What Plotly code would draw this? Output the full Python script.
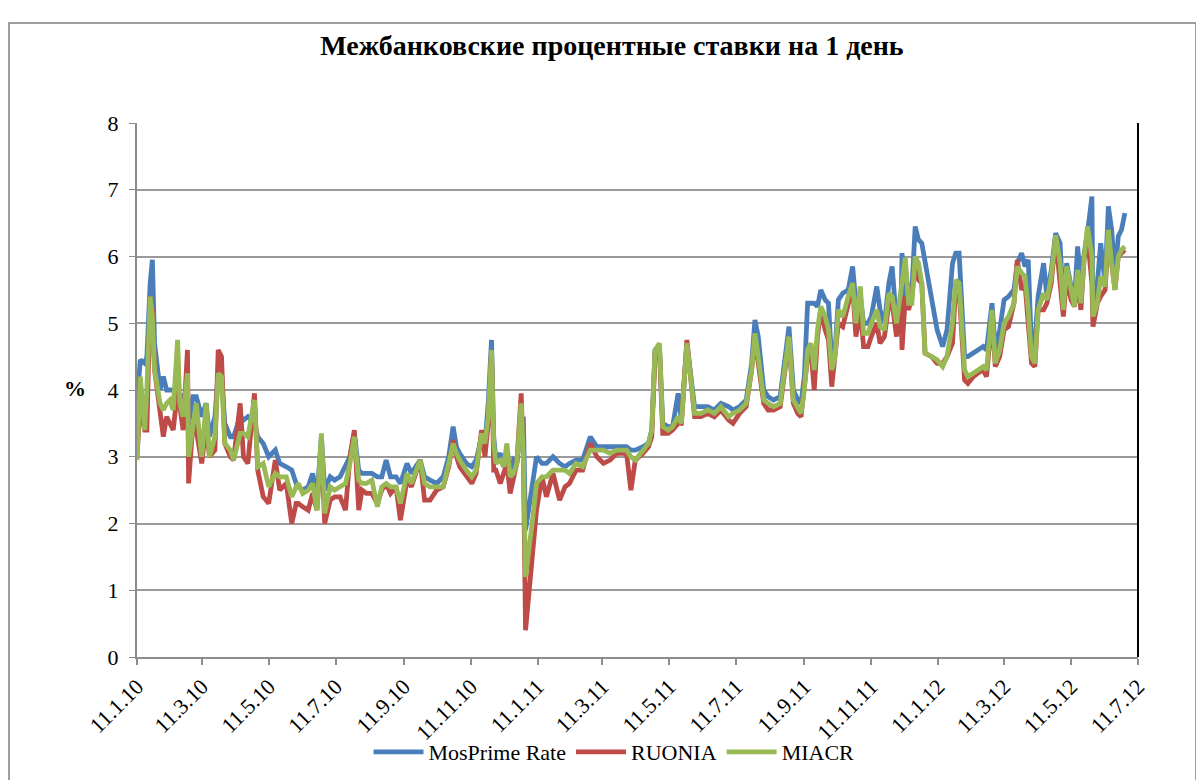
import plotly.graph_objects as go

dates = [
    "2010-01-11", "2010-01-14", "2010-01-18", "2010-01-20", "2010-01-23", "2010-01-25", "2010-01-27",
    "2010-02-01", "2010-02-04", "2010-02-07", "2010-02-10", "2010-02-13", "2010-02-17", "2010-02-19",
    "2010-02-22", "2010-02-26", "2010-02-27", "2010-03-03", "2010-03-06", "2010-03-11", "2010-03-15",
    "2010-03-18", "2010-03-23", "2010-03-26", "2010-03-29", "2010-04-01", "2010-04-06", "2010-04-09",
    "2010-04-15", "2010-04-18", "2010-04-22", "2010-04-28", "2010-05-01", "2010-05-06", "2010-05-11",
    "2010-05-17", "2010-05-21", "2010-05-27", "2010-06-01", "2010-06-05",
    "2010-06-07", "2010-06-11", "2010-06-16", "2010-06-20", "2010-06-24", "2010-06-28", "2010-07-01",
    "2010-07-06", "2010-07-10", "2010-07-15", "2010-07-20", "2010-07-24", "2010-07-28", "2010-08-01",
    "2010-08-04", "2010-08-08", "2010-08-13", "2010-08-18", "2010-08-22", "2010-08-26", "2010-08-30",
    "2010-09-04", "2010-09-08", "2010-09-14", "2010-09-18", "2010-09-26", "2010-09-30", "2010-10-05",
    "2010-10-11", "2010-10-17", "2010-10-22", "2010-10-26", "2010-10-29",
    "2010-11-01", "2010-11-07", "2010-11-12", "2010-11-16", "2010-11-21", "2010-11-24", "2010-11-27",
    "2010-11-30", "2010-12-02", "2010-12-04", "2010-12-08", "2010-12-11", "2010-12-14", "2010-12-17",
    "2010-12-20", "2010-12-23", "2010-12-27", "2010-12-29", "2010-12-31",
    "2011-01-06", "2011-01-10", "2011-01-15", "2011-01-19", "2011-01-25", "2011-01-31", "2011-02-05",
    "2011-02-09", "2011-02-15", "2011-02-21", "2011-02-28", "2011-03-06", "2011-03-12", "2011-03-18",
    "2011-03-24", "2011-04-02", "2011-04-06", "2011-04-10", "2011-04-17", "2011-04-22", "2011-04-25",
    "2011-04-28", "2011-05-02", "2011-05-05", "2011-05-10", "2011-05-14", "2011-05-19", "2011-05-22",
    "2011-05-27", "2011-05-30", "2011-06-03", "2011-06-09", "2011-06-15", "2011-06-21", "2011-06-27",
    "2011-07-04", "2011-07-08", "2011-07-14", "2011-07-20", "2011-07-25", "2011-07-28", "2011-07-31",
    "2011-08-05", "2011-08-09", "2011-08-14", "2011-08-20", "2011-08-24", "2011-08-28", "2011-09-01",
    "2011-09-05", "2011-09-08", "2011-09-11", "2011-09-14", "2011-09-17", "2011-09-20", "2011-09-23",
    "2011-09-26", "2011-09-30", "2011-10-03", "2011-10-06", "2011-10-09", "2011-10-12", "2011-10-16",
    "2011-10-21", "2011-10-25", "2011-10-28", "2011-11-01", "2011-11-04", "2011-11-08", "2011-11-11",
    "2011-11-16", "2011-11-19", "2011-11-23", "2011-11-27", "2011-11-30", "2011-12-04", "2011-12-08",
    "2011-12-09", "2011-12-12", "2011-12-15", "2011-12-18", "2011-12-21", "2011-12-24", "2011-12-27",
    "2011-12-30",
    "2012-01-05", "2012-01-10", "2012-01-15", "2012-01-19", "2012-01-24", "2012-01-27", "2012-01-30",
    "2012-02-02", "2012-02-04", "2012-02-07", "2012-02-12", "2012-02-16", "2012-02-21", "2012-02-24",
    "2012-02-29", "2012-03-03", "2012-03-07", "2012-03-11", "2012-03-15", "2012-03-20", "2012-03-23",
    "2012-03-27", "2012-03-30", "2012-04-02", "2012-04-05", "2012-04-08", "2012-04-11", "2012-04-16",
    "2012-04-19", "2012-04-23", "2012-04-27", "2012-05-01", "2012-05-04", "2012-05-07", "2012-05-11",
    "2012-05-14", "2012-05-17", "2012-05-20", "2012-05-23", "2012-05-26", "2012-05-30", "2012-05-31",
    "2012-06-04", "2012-06-07", "2012-06-11", "2012-06-14", "2012-06-17", "2012-06-20", "2012-06-23",
    "2012-06-26", "2012-06-29",
]

mosprime = [
    3.8, 4.45, 4.4, 4.5, 5.6, 5.95, 4.7,
    4.0, 4.2, 4.0, 4.0, 4.0, 4.0, 3.9,
    3.9, 4.0, 3.5, 3.9, 3.9, 3.6, 3.8,
    3.3, 3.6, 4.25, 4.2, 3.5, 3.3, 3.3,
    3.6, 3.55, 3.6, 3.5, 3.3, 3.2, 3.0,
    3.1, 2.9, 2.85, 2.8, 2.6,
    2.55, 2.5, 2.55, 2.75, 2.4, 3.3, 2.5,
    2.7, 2.65, 2.7, 2.85, 3.0, 3.35, 2.8,
    2.75, 2.75, 2.75, 2.7, 2.7, 2.95, 2.7,
    2.7, 2.6, 2.9, 2.75, 2.95, 2.7, 2.65,
    2.6, 2.7, 3.0, 3.45, 3.15,
    3.05, 2.9, 2.85, 2.95, 3.3, 3.2, 3.8,
    4.75, 3.3, 2.95, 3.05, 2.85, 3.1, 2.8,
    2.95, 2.9, 3.5, 3.6, 1.9,
    2.5, 3.0, 2.9, 2.9, 3.0, 2.9, 2.85,
    2.9, 2.95, 2.95, 3.3, 3.15, 3.15, 3.15,
    3.15, 3.15, 3.1, 3.1, 3.15, 3.2, 3.4,
    4.6, 4.65, 3.5, 3.45, 3.45, 3.95, 3.55,
    4.7, 4.3, 3.75, 3.75, 3.75, 3.7, 3.8,
    3.75, 3.7, 3.75, 3.85, 4.4, 5.05, 4.8,
    4.0, 3.9, 3.85, 3.9, 4.4, 4.95, 4.0,
    3.85, 3.8, 4.2, 5.3, 5.3, 5.3, 5.25,
    5.5, 5.35, 5.3, 4.4, 4.6, 5.35, 5.45,
    5.5, 5.85, 5.3, 5.4, 5.0, 5.0, 5.1,
    5.55, 5.2, 5.0, 5.6, 5.85, 5.0, 5.2,
    6.05, 5.3, 5.6, 5.5, 6.45, 6.25, 6.2,
    5.9,
    5.4, 4.9, 4.65, 4.9, 5.9, 6.05, 6.05,
    5.0, 4.5, 4.5, 4.55, 4.6, 4.65, 4.6,
    5.3, 4.6, 4.9, 5.35, 5.4, 5.5, 5.9,
    6.05, 5.85, 5.95, 4.6, 4.7, 5.4, 5.9,
    5.4, 5.8, 6.35, 6.2, 5.25, 5.9, 5.6,
    5.3, 6.15, 5.6, 6.05, 6.35, 6.9, 5.2,
    5.6, 6.2, 5.6, 6.75, 6.4, 5.7, 6.3,
    6.4, 6.65,
]

ruonia = [
    3.0, 3.8, 3.4, 3.4, 5.4, 5.2, 4.3,
    3.6, 3.3, 3.6, 3.5, 3.4, 4.0, 3.7,
    3.4, 4.6, 2.6, 3.5, 3.4, 2.9, 3.5,
    3.0, 3.1, 4.6, 4.5, 3.2, 3.0, 2.95,
    3.8, 3.0, 2.9, 3.95, 2.8, 2.4, 2.3,
    2.95, 2.5, 2.6, 2.0, 2.3,
    2.3, 2.25, 2.2, 2.45, 2.2, 3.2, 2.0,
    2.35, 2.4, 2.4, 2.2, 3.0, 3.4, 2.2,
    2.5, 2.45, 2.45, 2.3, 2.5, 2.6, 2.45,
    2.55, 2.05, 2.65, 2.55, 2.95, 2.35, 2.35,
    2.5, 2.55, 2.85, 3.25, 3.0,
    2.85, 2.7, 2.6, 2.75, 3.4, 3.0, 3.5,
    4.6, 2.8, 2.8, 2.6, 2.75, 2.9, 2.45,
    2.7, 2.9, 3.95, 3.0, 0.4,
    1.4, 2.2, 2.7, 2.4, 2.75, 2.35, 2.55,
    2.6, 2.8, 2.8, 3.2, 3.0, 2.9, 2.95,
    3.05, 3.05, 2.5, 2.95, 3.05, 3.15, 3.3,
    4.55, 4.6, 3.35, 3.35, 3.4, 3.5, 3.5,
    4.75, 4.2, 3.6, 3.6, 3.65, 3.6, 3.7,
    3.55, 3.5, 3.65, 3.75, 4.3, 4.8, 4.4,
    3.8, 3.7, 3.7, 3.75, 4.25, 4.75, 3.8,
    3.65, 3.6, 4.0, 4.5, 4.6, 4.0, 4.8,
    5.2, 4.9, 4.75, 4.05, 4.5, 5.0, 4.95,
    5.3, 5.55, 4.8, 5.2, 4.65, 4.65, 4.8,
    5.0, 4.7, 4.8, 5.3, 5.3, 4.8, 5.4,
    4.6, 5.4, 5.2, 5.4, 5.9, 5.65, 5.6,
    4.55,
    4.5, 4.4, 4.4, 4.5, 4.7, 5.55, 5.5,
    4.5, 4.15, 4.1, 4.2, 4.25, 4.3, 4.2,
    5.1, 4.35, 4.5, 4.9, 4.95, 5.3, 5.95,
    5.5, 5.6, 5.0, 4.4, 4.35, 5.2, 5.2,
    5.3, 5.6, 6.3, 5.6, 5.1, 5.7, 5.35,
    5.25, 5.6, 5.2, 6.0, 6.3, 5.6, 4.95,
    5.3, 5.4, 5.5, 6.3, 5.9, 5.5, 6.0,
    6.05, 6.1,
]

miacr = [
    2.95, 4.2, 3.4, 4.0, 5.4, 5.1, 4.3,
    3.8, 3.7, 3.8, 3.85, 3.7, 4.75, 3.8,
    3.6, 4.25, 3.0, 3.5, 3.8, 3.0, 3.8,
    3.0, 3.3, 4.25, 4.2, 3.2, 3.1, 2.95,
    3.35, 3.35, 3.3, 3.85, 2.85, 2.9, 2.55,
    2.75, 2.7, 2.7, 2.4, 2.55,
    2.6, 2.45, 2.5, 2.6, 2.2, 3.35, 2.15,
    2.55, 2.5, 2.55, 2.6, 2.9, 3.3, 2.65,
    2.6, 2.6, 2.65, 2.25, 2.55, 2.6, 2.55,
    2.55, 2.3, 2.75, 2.6, 2.95, 2.6, 2.55,
    2.55, 2.55, 2.9, 3.2, 3.05,
    2.95, 2.8, 2.7, 2.8, 3.35, 3.2, 3.6,
    4.6, 3.2, 2.9, 2.95, 2.85, 3.2, 2.7,
    2.75, 2.9, 3.8, 3.0, 1.2,
    2.0, 2.6, 2.7, 2.7, 2.8, 2.8, 2.8,
    2.75, 2.9, 2.85, 3.1, 3.1, 3.1, 3.05,
    3.1, 3.1, 3.0, 2.95, 3.1, 3.2, 3.4,
    4.6, 4.7, 3.45, 3.4, 3.45, 3.6, 3.5,
    4.7, 4.2, 3.65, 3.65, 3.7, 3.65, 3.75,
    3.6, 3.65, 3.7, 3.8, 4.3, 4.85, 4.5,
    3.85, 3.8, 3.75, 3.8, 4.3, 4.8, 3.85,
    3.75, 3.65, 4.0, 4.6, 4.7, 4.3, 4.9,
    5.25, 5.1, 4.9, 4.3, 4.5, 5.2, 5.1,
    5.4, 5.6, 5.0, 5.55, 4.85, 4.85, 5.0,
    5.2, 4.95, 4.9, 5.45, 5.4, 5.0, 5.5,
    5.55, 5.98, 5.3, 5.3, 6.0, 5.9, 5.6,
    4.55,
    4.5, 4.45, 4.35, 4.5, 5.0, 5.65, 5.6,
    4.6, 4.3, 4.2, 4.25, 4.3, 4.35, 4.3,
    5.2, 4.4, 4.6, 5.0, 5.1, 5.3, 5.85,
    5.75, 5.7, 5.2, 4.5, 4.4, 5.2, 5.45,
    5.35, 5.7, 6.32, 5.9, 5.2, 5.85, 5.5,
    5.25, 5.8, 5.3, 6.0, 6.45, 6.0, 5.1,
    5.3, 5.7, 5.55, 6.4, 5.9, 5.5, 6.0,
    6.1, 6.15,
]

series_names = ["MosPrime Rate", "RUONIA", "MIACR"]
series_colors = ["#4a7ebb", "#be4b48", "#98b954"]

tick_dates = [
    "2010-01-11", "2010-03-11", "2010-05-11", "2010-07-11", "2010-09-11", "2010-11-11",
    "2011-01-11", "2011-03-11", "2011-05-11", "2011-07-11", "2011-09-11", "2011-11-11",
    "2012-01-11", "2012-03-11", "2012-05-11", "2012-07-11",
]
tick_labels = [
    "11.1.10", "11.3.10", "11.5.10", "11.7.10", "11.9.10", "11.11.10",
    "11.1.11", "11.3.11", "11.5.11", "11.7.11", "11.9.11", "11.11.11",
    "11.1.12", "11.3.12", "11.5.12", "11.7.12",
]

FONT = "Liberation Serif"

# page has an 8px body margin: figure is sized so plot area lands at the reference position
W, H = 1196, 772
ML, MR, MT, MB = 129, 66, 115, 123
PW, PH = W - ML - MR, H - MT - MB

fig = go.Figure()
for name, vals, col in zip(series_names, [mosprime, ruonia, miacr], series_colors):
    fig.add_trace(go.Scatter(x=dates, y=vals, mode="lines", name=name,
                             line=dict(color=col, width=4.8)))

fig.update_layout(
    width=W, height=H,
    margin=dict(l=ML, r=MR, t=MT, b=MB, autoexpand=False),
    paper_bgcolor="white", plot_bgcolor="white",
    font=dict(family=FONT, size=22, color="black"),
    title=dict(text="<b>Межбанковские процентные ставки на 1 день</b>",
               x=(612 - 8) / W, xanchor="center", y=1 - 37 / H, yanchor="middle",
               font=dict(family=FONT, size=28, color="black")),
    showlegend=True,
    legend=dict(orientation="h", x=(614 - 137) / PW, xanchor="center",
                y=(657 - 731) / PH, yanchor="top",
                font=dict(family=FONT, size=22), itemwidth=50, bgcolor="rgba(0,0,0,0)"),
    xaxis=dict(type="date", range=["2010-01-11", "2012-07-11"],
               tickvals=tick_dates, ticktext=tick_labels, tickangle=-45,
               showgrid=False, showline=True, linecolor="#8c8c8c", linewidth=2,
               ticks="outside", ticklen=6, tickcolor="#8c8c8c", tickwidth=1.5,
               tickfont=dict(family=FONT, size=22), zeroline=False, automargin=False),
    yaxis=dict(range=[0, 8], tickvals=list(range(0, 9)),
               showgrid=True, gridcolor="#9a9a9a", gridwidth=1.5,
               showline=True, linecolor="#8c8c8c", linewidth=2,
               ticks="outside", ticklen=6, tickcolor="#8c8c8c", ticklabelstandoff=6,
               tickfont=dict(family=FONT, size=22), zeroline=False, automargin=False),
    shapes=[
        dict(type="line", xref="paper", yref="paper", x0=1, x1=1, y0=0, y1=1,
             line=dict(color="black", width=2)),
        dict(type="rect", xref="paper", yref="paper",
             x0=(9 - 137) / PW, x1=(1196 - 137) / PW,
             y0=(657 - 790) / PH, y1=(657 - 23) / PH,
             line=dict(color="#7f7f7f", width=1.5), layer="below"),
    ],
    annotations=[
        dict(text="<b>%</b>", xref="paper", yref="paper",
             x=(62 - 137) / PW, y=(657 - 388) / PH, showarrow=False,
             font=dict(family=FONT, size=22)),
    ],
)

fig.write_html("out.html")
